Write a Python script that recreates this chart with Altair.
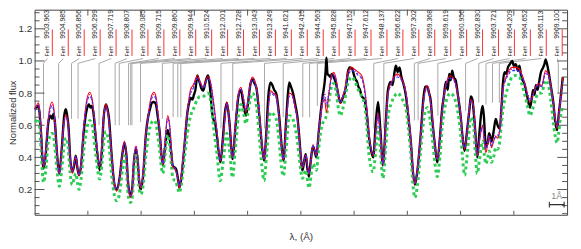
import altair as alt
import pandas as pd

# ---------------- data ----------------
# composite wavelength axis, in Angstrom from the left edge of the plot
lam_obs = [
    0.03, 0.27, 0.40, 0.60, 0.73, 0.93, 1.07, 1.18, 1.27, 1.37,
    1.50, 1.67, 1.83, 2.00, 2.11, 2.20, 2.30, 2.40, 2.55, 2.67,
    2.78, 2.90, 3.00, 3.13, 3.33, 3.53, 3.67, 3.77, 3.87, 4.00,
    4.13, 4.27, 4.40, 4.53, 4.67, 4.82, 4.93, 5.03, 5.20, 5.40,
    5.55, 5.73, 5.93, 6.07, 6.20, 6.33, 6.49, 6.60, 6.73, 6.85,
    6.97, 7.07, 7.18, 7.33, 7.53, 7.67, 7.80, 7.93, 8.07, 8.20,
    8.33, 8.45, 8.57, 8.67, 8.80, 8.93, 9.00, 9.13, 9.27, 9.33,
    9.43, 9.55, 9.67, 9.78, 9.90, 10.11, 10.33, 10.47, 10.55, 10.67,
    10.77, 10.87, 11.00, 11.10, 11.18, 11.27, 11.40, 11.53, 11.71, 11.80,
    11.89, 12.00, 12.11, 12.23, 12.33, 12.55, 12.73, 12.87, 13.00, 13.17,
    13.38, 13.57, 13.78, 13.95, 14.07, 14.17, 14.29, 14.43, 14.60, 14.73,
    14.87, 15.00, 15.20, 15.37, 15.51, 15.67, 15.80, 15.95, 16.07, 16.20,
    16.33, 16.53, 16.70, 16.82, 17.00, 17.13, 17.22, 17.33, 17.47, 17.62,
    17.77, 17.89, 18.11, 18.23, 18.33, 18.43, 18.55, 18.67, 18.82, 18.93,
    19.05, 19.20, 19.33, 19.47, 19.60, 19.67, 19.73, 19.80, 19.90, 20.00,
    20.10, 20.22, 20.40, 20.51, 20.67, 20.83, 20.95, 21.07, 21.18, 21.30,
    21.45, 21.57, 21.67, 21.80, 21.89, 22.00, 22.11, 22.23, 22.33, 22.47,
    22.60, 22.73, 22.89, 23.07, 23.22, 23.37, 23.55, 23.73, 23.89, 24.07,
    24.20, 24.33, 24.43, 24.55, 24.67, 24.80, 24.93, 25.11, 25.27, 25.45,
    25.57, 25.71, 25.87, 26.11, 26.27, 26.40, 26.55, 26.67, 26.77, 26.89,
    27.07, 27.22, 27.40, 27.55, 27.67, 27.80, 27.93, 28.03, 28.13, 28.23,
    28.33, 28.47, 28.60, 28.80, 28.93, 29.07, 29.23, 29.40, 29.49, 29.60,
    29.67, 29.80, 29.93, 30.07, 30.20, 30.29, 30.37, 30.51, 30.63, 30.73,
    30.89, 31.03, 31.18, 31.30, 31.45, 31.57, 31.67, 31.77, 31.89, 32.00,
    32.13, 32.29, 32.40, 32.53, 32.67, 32.78, 32.90, 33.11, 33.30, 33.49,
    33.60, 33.70, 33.80, 33.89, 34.00, 34.11, 34.23, 34.33, 34.47, 34.55,
    34.67, 34.77, 34.89, 35.07, 35.20, 35.33, 35.43, 35.55, 35.71,
]
flux_obs = [
    0.70, 0.72, 0.60, 0.33, 0.40, 0.62, 0.66, 0.64, 0.67, 0.62,
    0.44, 0.30, 0.45, 0.66, 0.70, 0.66, 0.58, 0.40, 0.31, 0.35,
    0.41, 0.33, 0.29, 0.34, 0.57, 0.70, 0.73, 0.71, 0.72, 0.66,
    0.52, 0.40, 0.32, 0.42, 0.65, 0.73, 0.70, 0.64, 0.42, 0.23,
    0.20, 0.26, 0.42, 0.49, 0.42, 0.23, 0.16, 0.21, 0.39, 0.45,
    0.38, 0.25, 0.20, 0.28, 0.55, 0.65, 0.70, 0.74, 0.745, 0.73,
    0.65, 0.56, 0.42, 0.35, 0.45, 0.55, 0.57, 0.52, 0.40, 0.35,
    0.34, 0.33, 0.28, 0.21, 0.26, 0.45, 0.68, 0.75, 0.77, 0.76,
    0.79, 0.82, 0.91, 0.88, 0.86, 0.83, 0.815, 0.86, 0.91, 0.88,
    0.80, 0.68, 0.63, 0.60, 0.53, 0.37, 0.52, 0.68, 0.74, 0.62,
    0.39, 0.58, 0.78, 0.82, 0.76, 0.70, 0.66, 0.74, 0.86, 0.885,
    0.86, 0.83, 0.65, 0.47, 0.38, 0.56, 0.78, 0.867, 0.85, 0.82,
    0.80, 0.66, 0.47, 0.38, 0.62, 0.80, 0.867, 0.84, 0.80, 0.73,
    0.65, 0.53, 0.32, 0.38, 0.42, 0.34, 0.28, 0.38, 0.47, 0.44,
    0.40, 0.55, 0.67, 0.78, 0.86, 0.93, 1.02, 0.92, 0.91, 0.90,
    0.92, 0.90, 0.85, 0.80, 0.74, 0.77, 0.80, 0.85, 0.93, 0.96,
    0.955, 0.92, 0.89, 0.87, 0.84, 0.82, 0.78, 0.77, 0.75, 0.66,
    0.53, 0.45, 0.40, 0.62, 0.745, 0.58, 0.35, 0.60, 0.82, 0.87,
    0.85, 0.93, 0.97, 0.93, 0.96, 0.90, 0.86, 0.78, 0.65, 0.48,
    0.32, 0.23, 0.31, 0.55, 0.75, 0.84, 0.84, 0.80, 0.76, 0.63,
    0.47, 0.37, 0.52, 0.70, 0.78, 0.87, 0.82, 0.92, 0.88, 0.94,
    0.90, 0.88, 0.80, 0.66, 0.53, 0.44, 0.56, 0.70, 0.78, 0.76,
    0.70, 0.55, 0.40, 0.55, 0.68, 0.72, 0.66, 0.47, 0.49, 0.55,
    0.50, 0.56, 0.64, 0.60, 0.58, 0.72, 0.87, 0.93, 0.92, 0.96,
    0.98, 1.00, 0.97, 0.98, 0.94, 0.97, 0.90, 0.86, 0.78, 0.71,
    0.76, 0.82, 0.79, 0.85, 0.82, 0.87, 0.93, 0.95, 0.98, 1.01,
    0.97, 0.92, 0.85, 0.74, 0.62, 0.57, 0.66, 0.76, 0.90,
]

lam_mod = [
    0.03, 0.27, 0.40, 0.60, 0.73, 0.93, 1.18, 1.33, 1.50, 1.67,
    1.83, 2.00, 2.13, 2.27, 2.40, 2.55, 2.67, 2.78, 2.90, 3.00,
    3.13, 3.33, 3.53, 3.73, 3.93, 4.13, 4.40, 4.53, 4.67, 4.82,
    5.00, 5.20, 5.40, 5.55, 5.73, 5.93, 6.07, 6.20, 6.33, 6.49,
    6.60, 6.73, 6.85, 6.97, 7.07, 7.18, 7.33, 7.53, 7.67, 7.80,
    7.93, 8.07, 8.20, 8.33, 8.45, 8.57, 8.67, 8.80, 9.00, 9.13,
    9.27, 9.33, 9.43, 9.55, 9.67, 9.78, 9.90, 10.11, 10.33, 10.55,
    10.73, 11.00, 11.18, 11.40, 11.71, 11.89, 12.11, 12.33, 12.55, 12.73,
    13.00, 13.17, 13.38, 13.57, 13.78, 13.95, 14.13, 14.29, 14.43, 14.60,
    14.73, 15.00, 15.20, 15.37, 15.51, 15.67, 15.95, 16.13, 16.33, 16.53,
    16.70, 16.82, 17.00, 17.22, 17.40, 17.62, 17.77, 17.89, 18.11, 18.33,
    18.55, 18.82, 19.05, 19.20, 19.33, 19.47, 19.60, 19.73, 19.90, 20.07,
    20.22, 20.40, 20.51, 20.67, 20.83, 20.95, 21.18, 21.45, 21.67, 21.89,
    22.11, 22.33, 22.47, 22.60, 22.89, 23.07, 23.22, 23.37, 23.55, 23.73,
    23.89, 24.13, 24.33, 24.55, 24.80, 25.11, 25.27, 25.45, 25.57, 25.71,
    25.87, 26.11, 26.33, 26.55, 26.73, 26.89, 27.07, 27.22, 27.40, 27.55,
    27.80, 28.11, 28.33, 28.60, 28.80, 28.93, 29.07, 29.23, 29.49, 29.67,
    29.80, 29.93, 30.07, 30.29, 30.40, 30.51, 30.63, 30.73, 30.89, 31.03,
    31.18, 31.30, 31.45, 31.57, 31.67, 31.89, 32.07, 32.29, 32.53, 32.78,
    32.93, 33.11, 33.30, 33.49, 33.67, 33.89, 34.11, 34.27, 34.55, 34.73,
    34.89, 35.07, 35.20, 35.33, 35.43, 35.55, 35.71,
]
flux_red = [
    0.70, 0.74, 0.62, 0.34, 0.42, 0.65, 0.745, 0.68, 0.45, 0.295,
    0.45, 0.63, 0.665, 0.60, 0.40, 0.30, 0.36, 0.40, 0.33, 0.285,
    0.35, 0.60, 0.76, 0.805, 0.74, 0.55, 0.345, 0.45, 0.66, 0.73,
    0.65, 0.42, 0.23, 0.19, 0.25, 0.42, 0.50, 0.42, 0.22, 0.15,
    0.20, 0.40, 0.47, 0.40, 0.26, 0.21, 0.30, 0.55, 0.65, 0.74,
    0.79, 0.805, 0.78, 0.68, 0.57, 0.42, 0.355, 0.48, 0.66, 0.60,
    0.42, 0.345, 0.33, 0.315, 0.27, 0.21, 0.28, 0.47, 0.69, 0.825,
    0.85, 0.91, 0.87, 0.835, 0.905, 0.87, 0.735, 0.56, 0.376, 0.50,
    0.745, 0.62, 0.397, 0.60, 0.80, 0.836, 0.76, 0.68, 0.76, 0.87,
    0.90, 0.836, 0.67, 0.48, 0.386, 0.55, 0.816, 0.80, 0.785, 0.65,
    0.46, 0.386, 0.60, 0.80, 0.79, 0.714, 0.64, 0.52, 0.335, 0.41,
    0.295, 0.47, 0.41, 0.55, 0.65, 0.74, 0.76, 0.68, 0.80, 0.91,
    0.93, 0.88, 0.816, 0.735, 0.78, 0.816, 0.93, 0.96, 0.945, 0.93,
    0.91, 0.816, 0.70, 0.55, 0.41, 0.56, 0.675, 0.55, 0.355, 0.60,
    0.80, 0.87, 0.905, 0.918, 0.89, 0.80, 0.68, 0.49, 0.33, 0.233,
    0.32, 0.55, 0.78, 0.847, 0.77, 0.65, 0.47, 0.386, 0.52, 0.69,
    0.85, 0.91, 0.89, 0.80, 0.67, 0.53, 0.45, 0.55, 0.76, 0.72,
    0.55, 0.41, 0.50, 0.60, 0.50, 0.43, 0.48, 0.53, 0.46, 0.50,
    0.53, 0.52, 0.57, 0.72, 0.83, 0.90, 0.94, 0.96, 0.96, 0.95,
    0.92, 0.87, 0.80, 0.745, 0.78, 0.84, 0.86, 0.84, 0.94, 0.92,
    0.85, 0.74, 0.64, 0.58, 0.65, 0.755, 0.90,
]
flux_blue = [
    0.69, 0.72, 0.61, 0.35, 0.42, 0.63, 0.72, 0.66, 0.45, 0.30,
    0.45, 0.62, 0.65, 0.59, 0.40, 0.31, 0.36, 0.41, 0.34, 0.29,
    0.35, 0.59, 0.74, 0.78, 0.73, 0.55, 0.35, 0.45, 0.65, 0.71,
    0.64, 0.42, 0.24, 0.20, 0.26, 0.42, 0.49, 0.42, 0.23, 0.16,
    0.21, 0.40, 0.46, 0.40, 0.27, 0.22, 0.30, 0.54, 0.64, 0.72,
    0.77, 0.78, 0.76, 0.67, 0.57, 0.42, 0.36, 0.48, 0.64, 0.59,
    0.42, 0.35, 0.34, 0.32, 0.27, 0.22, 0.28, 0.46, 0.68, 0.80,
    0.83, 0.89, 0.86, 0.83, 0.89, 0.86, 0.72, 0.55, 0.38, 0.50,
    0.73, 0.61, 0.40, 0.60, 0.78, 0.82, 0.76, 0.69, 0.75, 0.85,
    0.88, 0.82, 0.66, 0.48, 0.39, 0.55, 0.80, 0.79, 0.77, 0.64,
    0.46, 0.39, 0.60, 0.78, 0.78, 0.70, 0.63, 0.52, 0.34, 0.41,
    0.30, 0.47, 0.41, 0.56, 0.65, 0.74, 0.78, 0.72, 0.80, 0.89,
    0.91, 0.87, 0.80, 0.74, 0.77, 0.80, 0.91, 0.94, 0.93, 0.91,
    0.89, 0.80, 0.69, 0.55, 0.42, 0.56, 0.66, 0.55, 0.36, 0.59,
    0.78, 0.86, 0.89, 0.90, 0.88, 0.79, 0.67, 0.49, 0.34, 0.24,
    0.32, 0.54, 0.77, 0.83, 0.76, 0.64, 0.47, 0.39, 0.52, 0.68,
    0.84, 0.89, 0.88, 0.79, 0.66, 0.53, 0.46, 0.55, 0.75, 0.71,
    0.55, 0.42, 0.50, 0.59, 0.51, 0.45, 0.49, 0.53, 0.47, 0.50,
    0.53, 0.53, 0.57, 0.71, 0.82, 0.89, 0.92, 0.94, 0.94, 0.93,
    0.91, 0.86, 0.80, 0.75, 0.78, 0.83, 0.85, 0.84, 0.92, 0.91,
    0.84, 0.73, 0.64, 0.59, 0.65, 0.75, 0.88,
]
flux_mag = [
    0.70, 0.73, 0.62, 0.35, 0.43, 0.64, 0.73, 0.67, 0.46, 0.30,
    0.46, 0.62, 0.66, 0.60, 0.41, 0.31, 0.37, 0.41, 0.34, 0.29,
    0.36, 0.60, 0.75, 0.79, 0.73, 0.56, 0.35, 0.46, 0.65, 0.72,
    0.65, 0.43, 0.24, 0.20, 0.26, 0.43, 0.50, 0.43, 0.23, 0.16,
    0.21, 0.41, 0.47, 0.41, 0.27, 0.22, 0.31, 0.55, 0.65, 0.73,
    0.78, 0.79, 0.77, 0.68, 0.58, 0.43, 0.36, 0.49, 0.65, 0.60,
    0.43, 0.35, 0.34, 0.32, 0.28, 0.22, 0.29, 0.47, 0.68, 0.81,
    0.84, 0.90, 0.87, 0.84, 0.90, 0.87, 0.73, 0.56, 0.38, 0.51,
    0.74, 0.62, 0.40, 0.61, 0.79, 0.83, 0.77, 0.70, 0.76, 0.86,
    0.89, 0.83, 0.67, 0.49, 0.39, 0.56, 0.81, 0.80, 0.78, 0.65,
    0.47, 0.39, 0.61, 0.79, 0.79, 0.71, 0.64, 0.53, 0.34, 0.42,
    0.30, 0.48, 0.42, 0.57, 0.67, 0.76, 0.80, 0.74, 0.81, 0.90,
    0.92, 0.88, 0.81, 0.75, 0.78, 0.81, 0.92, 0.95, 0.94, 0.92,
    0.90, 0.81, 0.70, 0.56, 0.42, 0.57, 0.67, 0.56, 0.36, 0.60,
    0.79, 0.87, 0.90, 0.91, 0.89, 0.80, 0.68, 0.50, 0.34, 0.24,
    0.33, 0.55, 0.78, 0.84, 0.77, 0.65, 0.48, 0.39, 0.53, 0.69,
    0.85, 0.90, 0.89, 0.80, 0.67, 0.54, 0.46, 0.56, 0.76, 0.72,
    0.56, 0.42, 0.51, 0.60, 0.52, 0.46, 0.50, 0.54, 0.48, 0.51,
    0.54, 0.54, 0.58, 0.72, 0.83, 0.90, 0.93, 0.95, 0.95, 0.94,
    0.92, 0.87, 0.81, 0.76, 0.79, 0.84, 0.86, 0.85, 0.93, 0.92,
    0.85, 0.74, 0.65, 0.60, 0.66, 0.76, 0.80,
]
flux_green = [
    0.62, 0.64, 0.50, 0.245, 0.30, 0.50, 0.55, 0.50, 0.33, 0.22,
    0.32, 0.48, 0.52, 0.46, 0.30, 0.23, 0.27, 0.30, 0.24, 0.20,
    0.26, 0.45, 0.58, 0.63, 0.58, 0.42, 0.265, 0.34, 0.50, 0.56,
    0.50, 0.30, 0.16, 0.13, 0.17, 0.32, 0.41, 0.33, 0.16, 0.12,
    0.15, 0.34, 0.43, 0.34, 0.20, 0.17, 0.22, 0.42, 0.52, 0.59,
    0.62, 0.63, 0.61, 0.53, 0.45, 0.34, 0.30, 0.40, 0.54, 0.48,
    0.33, 0.28, 0.26, 0.25, 0.21, 0.18, 0.22, 0.38, 0.55, 0.66,
    0.70, 0.76, 0.78, 0.78, 0.80, 0.76, 0.58, 0.42, 0.255, 0.36,
    0.55, 0.45, 0.275, 0.45, 0.66, 0.73, 0.67, 0.61, 0.68, 0.77,
    0.80, 0.72, 0.52, 0.34, 0.255, 0.40, 0.68, 0.67, 0.64, 0.50,
    0.33, 0.285, 0.45, 0.66, 0.65, 0.58, 0.50, 0.40, 0.27, 0.32,
    0.21, 0.36, 0.32, 0.45, 0.55, 0.61, 0.63, 0.66, 0.75, 0.84,
    0.86, 0.80, 0.72, 0.66, 0.70, 0.75, 0.86, 0.90, 0.87, 0.82,
    0.78, 0.72, 0.58, 0.42, 0.31, 0.45, 0.59, 0.45, 0.27, 0.45,
    0.65, 0.74, 0.78, 0.80, 0.77, 0.70, 0.58, 0.40, 0.24, 0.15,
    0.22, 0.45, 0.65, 0.71, 0.64, 0.52, 0.36, 0.28, 0.40, 0.58,
    0.74, 0.80, 0.78, 0.69, 0.55, 0.40, 0.29, 0.40, 0.65, 0.60,
    0.42, 0.30, 0.38, 0.50, 0.42, 0.36, 0.40, 0.44, 0.37, 0.40,
    0.46, 0.45, 0.50, 0.62, 0.70, 0.80, 0.86, 0.90, 0.91, 0.90,
    0.86, 0.80, 0.73, 0.66, 0.70, 0.77, 0.80, 0.80, 0.88, 0.85,
    0.76, 0.62, 0.53, 0.49, 0.55, 0.65, 0.72,
]

# FeH line identifications (vacuum wavelengths in Angstrom)
feh_lines = [
    9903.963, 9904.985, 9905.856, 9906.299, 9907.719, 9908.807, 9909.085,
    9909.715, 9909.860, 9909.944, 9910.524, 9912.001, 9912.728, 9913.043,
    9913.249, 9941.621, 9942.415, 9944.563, 9945.828, 9947.152, 9947.612,
    9948.137, 9956.622, 9957.302, 9959.368, 9959.619, 9960.956, 9962.830,
    9963.721, 9964.209, 9964.652, 9965.113, 9969.100,
]
# flux level where each line marker ends
line_floor = [
    0.64, 0.64, 0.64, 0.64, 0.60, 0.60, 0.60, 0.60, 0.60, 0.60, 0.62,
    0.64, 0.65, 0.65, 0.65, 0.58, 0.69, 0.58, 0.65, 0.65, 0.65, 0.72,
    0.58, 0.58, 0.63, 0.63, 0.66, 0.69, 0.74, 0.73, 0.74, 0.74, 0.80,
]
# spectral windows stitched together: (first wavelength, offset to composite axis)
windows = [(9900.0, 9903.363), (9930.0, 9929.021), (9950.0, 9933.692)]

x_ticks = [3.6, 7.2, 10.8, 14.4, 18.0, 21.6, 25.2, 28.8, 32.4]
y_major = [0.2, 0.4, 0.6, 0.8, 1.0, 1.2]
y_minor = [0.05, 0.10, 0.15, 0.25, 0.30, 0.35, 0.45, 0.50, 0.55, 0.65,
           0.70, 0.75, 0.85, 0.90, 0.95, 1.05, 1.10, 1.15, 1.25, 1.30]
scale_bar = [34.8, 35.8]   # 1 Angstrom

assert len(lam_obs) == len(flux_obs)
for arr in (flux_red, flux_blue, flux_mag, flux_green):
    assert len(arr) == len(lam_mod), len(arr)
assert len(feh_lines) == len(line_floor)

# ---------------- layout ----------------
W, H = 540, 208
FONT = "Liberation Sans"
xs = alt.Scale(domain=[0, 36], nice=False, zero=False)
ys = alt.Scale(domain=[0.043, 1.319], nice=False, zero=False)

AX = alt.Axis(values=x_ticks, labels=False, ticks=False, domain=False, grid=False,
              title="λ, (Å)", titleFontSize=10, titleFontWeight="normal",
              titleColor="#333", titleFont=FONT, titlePadding=17)
AY = alt.Axis(values=y_major, format=".1f", ticks=False, domain=False, grid=False,
              labelPadding=3, labelFontSize=10, labelColor="#333", labelFont=FONT,
              title="Normalized flux", titleFontSize=9.5, titleFontWeight="normal",
              titleColor="#333", titleFont=FONT, titleX=-17, titleBaseline="bottom")


def X(f="x"):
    return alt.X(f"{f}:Q", scale=xs, axis=AX, title="λ, (Å)")


def Y(f="y"):
    return alt.Y(f"{f}:Q", scale=ys, axis=AY, title="Normalized flux")


obs = pd.DataFrame({"x": lam_obs, "y": flux_obs})
mod = pd.DataFrame({"x": lam_mod, "red": flux_red, "blue": flux_blue,
                    "mag": flux_mag, "green": flux_green})


def composite(lam):
    off = None
    for start, o in windows:
        if lam >= start:
            off = o
    return lam - off


lab_rows, conn_rows = [], []
for i, (lam, fl) in enumerate(zip(feh_lines, line_floor)):
    lx = 0.867 + 1.0773 * i
    px = composite(lam)
    lab_rows.append({"x": lx, "xr": lx + 0.33, "num": f"{lam:.3f}", "feh": "FeH"})
    conn_rows += [
        {"id": i, "o": 0, "x": lx, "y": 1.015},
        {"id": i, "o": 1, "x": px, "y": 0.985},
        {"id": i, "o": 2, "x": px, "y": fl},
    ]
labs = pd.DataFrame(lab_rows)
labs["ynum"] = 1.138
labs["yfeh"] = 1.028
labs["r1"] = 1.196
labs["r2"] = 1.031
conn = pd.DataFrame(conn_rows)

black = alt.Chart(obs).mark_line(color="black", strokeWidth=2.4,
                                 interpolate="monotone").encode(x=X(), y=Y())
green = alt.Chart(mod).mark_line(color="#2ecc55", strokeWidth=3,
                                 strokeDash=[3, 3], interpolate="monotone"
                                 ).encode(x=X(), y=Y("green"))
red = alt.Chart(mod).mark_line(color="#ff0000", strokeWidth=1.1,
                               interpolate="monotone").encode(x=X(), y=Y("red"))
blue = alt.Chart(mod).mark_line(color="#1f3cff", strokeWidth=1.1,
                                strokeDash=[3, 2], interpolate="monotone"
                                ).encode(x=X(), y=Y("blue"))
mag = alt.Chart(mod).mark_line(color="#b400c8", strokeWidth=1.3,
                               strokeDash=[1, 2], interpolate="monotone"
                               ).encode(x=X(), y=Y("mag"))

connectors = alt.Chart(conn).mark_line(color="#a8a8a8", strokeWidth=1).encode(
    x=X(), y=Y(), detail="id:N", order="o:Q")
red_bars = alt.Chart(labs).mark_rule(color="#ff3030", strokeWidth=1).encode(
    x=X("xr"), y=Y("r1"), y2="r2:Q")
num_text = alt.Chart(labs).mark_text(angle=270, align="left", baseline="middle",
                                     fontSize=7, font=FONT, color="#222").encode(
    x=X(), y=Y("ynum"), text="num:N")
feh_text = alt.Chart(labs).mark_text(angle=270, align="left", baseline="middle",
                                     fontSize=5.5, font=FONT, color="#222").encode(
    x=X(), y=Y("yfeh"), text="feh:N")

# inward ticks
ymaj = pd.DataFrame({"y": y_major})
ymin = pd.DataFrame({"y": y_minor})
xt = pd.DataFrame({"x": x_ticks})
tick_col = "#555"
ticks = [
    alt.Chart(ymaj).mark_rule(color=tick_col).encode(y=Y(), x=alt.value(0), x2=alt.value(10)),
    alt.Chart(ymin).mark_rule(color=tick_col).encode(y=Y(), x=alt.value(0), x2=alt.value(5)),
    alt.Chart(ymaj).mark_rule(color=tick_col).encode(y=Y(), x=alt.value(W), x2=alt.value(W - 10)),
    alt.Chart(ymin).mark_rule(color=tick_col).encode(y=Y(), x=alt.value(W), x2=alt.value(W - 5)),
    alt.Chart(xt).mark_rule(color=tick_col).encode(x=X(), y=alt.value(H), y2=alt.value(H - 4)),
    alt.Chart(xt).mark_rule(color=tick_col).encode(x=X(), y=alt.value(0), y2=alt.value(6)),
]

bar = pd.DataFrame({"x": [scale_bar[0]], "x2": [scale_bar[1]], "y": [0.106],
                    "ya": [0.088], "yb": [0.124], "t": ["1Å"],
                    "xm": [(scale_bar[0] + scale_bar[1]) / 2], "yt": [0.16]})
bar_line = alt.Chart(bar).mark_rule(color="#222", strokeWidth=1.2).encode(
    x=X(), x2="x2:Q", y=Y())
bar_cap1 = alt.Chart(bar).mark_rule(color="#222").encode(x=X(), y=Y("ya"), y2="yb:Q")
bar_cap2 = alt.Chart(bar).mark_rule(color="#222").encode(x=X("x2"), y=Y("ya"), y2="yb:Q")
bar_txt = alt.Chart(bar).mark_text(fontSize=9, font=FONT, color="#888",
                                   baseline="middle").encode(x=X("xm"), y=Y("yt"), text="t:N")

chart = alt.layer(
    connectors, black, green, red, blue, mag,
    red_bars, num_text, feh_text, *ticks, bar_line, bar_cap1, bar_cap2, bar_txt,
).properties(
    width=W, height=H,
    autosize=alt.AutoSizeParams(type="none"),
    padding={"left": 27, "top": 0, "right": 6, "bottom": 33},
).configure_view(stroke="#444", strokeWidth=1)

chart.save("out.html", embed_options={"renderer": "svg", "actions": False})
